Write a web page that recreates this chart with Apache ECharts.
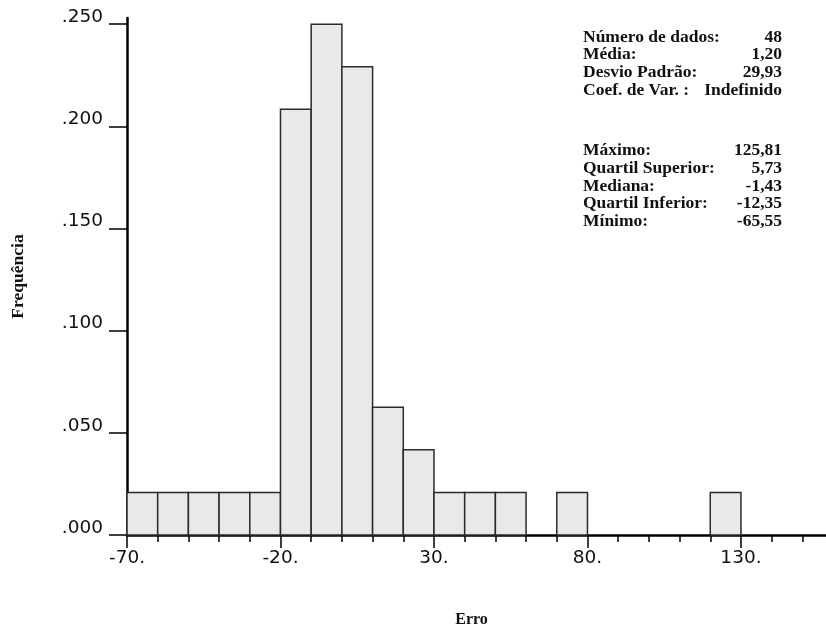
<!DOCTYPE html>
<html>
<head>
<meta charset="utf-8">
<script src="https://cdn.jsdelivr.net/npm/echarts@6/dist/echarts.min.js"></script>
<style>
  html, body { margin: 0; padding: 0; background: #fff; }
  #chart { width: 826px; height: 630px; }
</style>
</head>
<body>
<div id="chart"></div>
<script>
// Histogram of errors: bin start, counts per bin of width 10
const binStarts = [-70, -60, -50, -40, -30, -20, -10, 0, 10, 20, 30, 40, 50, 60, 70, 80, 90, 100, 110, 120];
const binWidth = 10;
const binCounts = [1, 1, 1, 1, 1, 10, 12, 11, 3, 2, 1, 1, 1, 0, 1, 0, 0, 0, 0, 1];
const totalCount = 48;

// Axis ticks
const xMajorTicks = [-70, -20, 30, 80, 130];
const xMinorTicks = [-60, -50, -40, -30, -10, 0, 10, 20, 40, 50, 60, 70, 90, 100, 110, 120, 140, 150];
const yMajorTicks = [0, 0.05, 0.10, 0.15, 0.20, 0.25];
const yMinorTicks = [0.01, 0.02, 0.03, 0.04, 0.06, 0.07, 0.08, 0.09, 0.11, 0.12, 0.13, 0.14,
                     0.16, 0.17, 0.18, 0.19, 0.21, 0.22, 0.23, 0.24];

// Summary statistics panel
const statLabelsTop = ['Número de dados:', 'Média:', 'Desvio Padrão:', 'Coef. de Var. :'];
const statValuesTop = ['48', '1,20', '29,93', 'Indefinido'];
const statLabelsBottom = ['Máximo:', 'Quartil Superior:', 'Mediana:', 'Quartil Inferior:', 'Mínimo:'];
const statValuesBottom = ['125,81', '5,73', '-1,43', '-12,35', '-65,55'];

const X_MIN = -70, X_MAX = 157.7, Y_MIN = 0, Y_MAX = 0.253;

const histData = [];
binStarts.forEach((s, i) => {
  if (binCounts[i] > 0) histData.push([s, s + binWidth, binCounts[i] / totalCount]);
});

const sansFont = 'DejaVu Sans';
const serifFont = '"Liberation Serif", "Times New Roman", serif';
const axisColor = '#000';

function statTexts(labels, values, top) {
  const out = [];
  const rowH = 17.8;
  labels.forEach((lab, i) => {
    const y = top + i * rowH;
    out.push({
      type: 'text', x: 583, y: y,
      style: { text: lab, font: 'bold 17.5px ' + serifFont, fill: '#111',
               align: 'left', verticalAlign: 'middle', textAlign: 'left', textVerticalAlign: 'middle' }
    });
    out.push({
      type: 'text', x: 782, y: y,
      style: { text: values[i], font: 'bold 17.5px ' + serifFont, fill: '#111',
               align: 'right', verticalAlign: 'middle', textAlign: 'right', textVerticalAlign: 'middle' }
    });
  });
  return out;
}

const chart = echarts.init(document.getElementById('chart'), null, { renderer: 'canvas' });
chart.setOption({
  animation: false,
  backgroundColor: '#fff',
  grid: { left: 127, right: 0, top: 18, bottom: 95, containLabel: false, outerBoundsMode: 'none' },
  xAxis: [
    {
      type: 'value', min: X_MIN, max: X_MAX, position: 'bottom',
      axisLine: { show: true, onZero: false, lineStyle: { color: axisColor, width: 2.5 } },
      axisTick: { show: true, customValues: xMajorTicks, length: 13, lineStyle: { color: axisColor, width: 1.5 } },
      axisLabel: { show: true, customValues: xMajorTicks, formatter: v => v + '.',
                   fontFamily: sansFont, fontSize: 18.5, color: '#111', margin: 14 },
      splitLine: { show: false },
      name: 'Erro', nameLocation: 'middle', nameGap: 77,
      nameTextStyle: { fontFamily: serifFont, fontWeight: 'bold', fontSize: 16, color: '#111',
                       padding: [0, 10, 0, 0] }
    },
    {
      type: 'value', min: X_MIN, max: X_MAX, position: 'bottom',
      axisLine: { show: false },
      axisTick: { show: true, customValues: xMinorTicks, length: 7, lineStyle: { color: axisColor, width: 1.5 } },
      axisLabel: { show: false },
      splitLine: { show: false }
    }
  ],
  yAxis: [
    {
      type: 'value', min: Y_MIN, max: Y_MAX, position: 'left',
      axisLine: { show: true, onZero: false, lineStyle: { color: axisColor, width: 2.5 } },
      axisTick: { show: true, customValues: yMajorTicks, length: 18, lineStyle: { color: axisColor, width: 1.5 } },
      axisLabel: { show: true, customValues: yMajorTicks,
                   formatter: v => v.toFixed(3).replace(/^0/, ''),
                   fontFamily: sansFont, fontSize: 18.5, color: '#111', margin: 24,
                   verticalAlign: 'bottom', lineHeight: 14 },
      splitLine: { show: false },
      name: 'Frequência', nameLocation: 'middle', nameGap: 100,
      nameTextStyle: { fontFamily: serifFont, fontWeight: 'bold', fontSize: 17.5, color: '#111' }
    },
    {
      type: 'value', min: Y_MIN, max: Y_MAX, position: 'left',
      axisLine: { show: false },
      axisTick: { show: true, customValues: yMinorTicks, length: 10, lineStyle: { color: axisColor, width: 1.5 } },
      axisLabel: { show: false },
      splitLine: { show: false }
    }
  ],
  series: [{
    type: 'custom',
    xAxisIndex: 0, yAxisIndex: 0,
    data: histData,
    encode: { x: [0, 1], y: 2 },
    renderItem: function (params, api) {
      const p0 = api.coord([api.value(0), 0]);
      const p1 = api.coord([api.value(1), api.value(2)]);
      return {
        type: 'rect',
        shape: { x: p0[0], y: p1[1], width: p1[0] - p0[0], height: p0[1] - p1[1] },
        style: { fill: '#e9e9e9', stroke: '#2b2b2b', lineWidth: 1.5 }
      };
    }
  }],
  graphic: statTexts(statLabelsTop, statValuesTop, 37).concat(statTexts(statLabelsBottom, statValuesBottom, 150.5))
});
</script>
</body>
</html>
